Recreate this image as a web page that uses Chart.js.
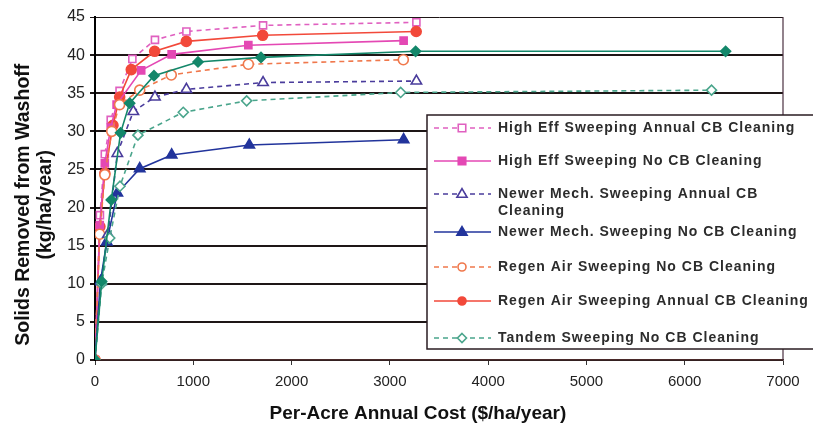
<!DOCTYPE html>
<html>
<head>
<meta charset="utf-8">
<script src="https://cdn.jsdelivr.net/npm/chart.js@4.4.1/dist/chart.umd.min.js"></script>
<style>
    html, body { margin: 0; padding: 0; background: #fff; }
    #wrap { width: 813px; height: 431px; position: relative; }
</style>
</head>
<body>
<div id="wrap"><canvas id="washoffChart" width="813" height="431"></canvas></div>
<script>
// cost ($/ha/year) and solids removed (kg/ha/year)
const highEffAnnualX = [0, 50, 100, 160, 250, 380, 610, 930, 1710, 3270];
const highEffAnnualY = [0, 19, 27, 31.5, 35.3, 39.5, 42, 43.1, 43.9, 44.3];

const highEffNoCbX = [0, 48, 100, 160, 220, 470, 780, 1560, 3140];
const highEffNoCbY = [0, 17.7, 25.8, 30.5, 33.5, 38, 40.1, 41.3, 41.9];

const newerMechAnnualX = [0, 60, 132, 227, 390, 610, 930, 1710, 3270];
const newerMechAnnualY = [0, 10.3, 16.5, 27.1, 32.6, 34.5, 35.5, 36.4, 36.6];

const newerMechNoCbX = [0, 55, 120, 227, 455, 780, 1570, 3140];
const newerMechNoCbY = [0, 10.3, 15.5, 21.9, 25.1, 26.9, 28.2, 28.9];

const regenNoCbX = [0, 48, 100, 170, 250, 455, 776, 1560, 3137];
const regenNoCbY = [0, 16.5, 24.3, 30, 33.5, 35.4, 37.4, 38.8, 39.4];

const regenAnnualX = [0, 50, 100, 183, 251, 369, 607, 929, 1706, 3268];
const regenAnnualY = [0, 17.5, 24.5, 30.8, 34.5, 38.1, 40.5, 41.8, 42.6, 43.1];

const tandemNoCbX = [0, 68, 150, 254, 437, 898, 1543, 3110, 6273];
const tandemNoCbY = [0, 10, 16, 22.8, 29.5, 32.5, 34.0, 35.1, 35.4];

const tandemAnnualX = [0, 68, 166, 260, 353, 600, 1048, 1689, 3262, 6416];
const tandemAnnualY = [0, 10.3, 21, 29.8, 33.7, 37.3, 39.1, 39.7, 40.5, 40.5];

const xTicks = [0, 1000, 2000, 3000, 4000, 5000, 6000, 7000];
const yTicks = [0, 5, 10, 15, 20, 25, 30, 35, 40, 45];

const sans = "'Liberation Sans', Arial, sans-serif";
const pad = n => "\u00a0".repeat(n);

function pts(xs, ys) {
    return xs.map((x, i) => ({ x: x, y: ys[i] }));
}

function series(label, xs, ys, color, dashed, style, filled, radius) {
    return {
        label: label,
        data: pts(xs, ys),
        borderColor: color,
        backgroundColor: color,
        borderWidth: 1.6,
        borderDash: dashed ? [5, 4] : [],
        pointStyle: style,
        pointRadius: radius || 5,
        pointBorderWidth: 1.6,
        pointBorderColor: color,
        pointBackgroundColor: filled ? color : "#ffffff",
        tension: 0
    };
}

const datasets = [
    series("Tandem Sweeping Annual CB Cleaning", tandemAnnualX, tandemAnnualY, "#13876a", false, "rectRot", true, 5),
    series("Tandem Sweeping No CB Cleaning", tandemNoCbX, tandemNoCbY, "#4aa58c", true, "rectRot", false, 5),
    series("Newer Mech. Sweeping No CB Cleaning", newerMechNoCbX, newerMechNoCbY, "#22349c", false, "triangle", true, 6),
    series("Newer Mech. Sweeping Annual CB Cleaning", newerMechAnnualX, newerMechAnnualY, "#4a3c9c", true, "triangle", false, 6),
    series("Regen Air Sweeping No CB Cleaning", regenNoCbX, regenNoCbY, "#f0784c", true, "circle", false, 5),
    series("High Eff Sweeping No CB Cleaning", highEffNoCbX, highEffNoCbY, "#e448b4", false, "rect", true, 5),
    series("Regen Air Sweeping Annual CB Cleaning", regenAnnualX, regenAnnualY, "#f2493a", false, "circle", true, 5),
    series("High Eff Sweeping Annual CB Cleaning", highEffAnnualX, highEffAnnualY, "#e060c0", true, "rect", false, 5)
];

// legend order as in the figure (the green solid series has no entry there)
const legendOrder = [
    { label: ["High Eff Sweeping Annual CB Cleaning"], ds: 7 },
    { label: ["High Eff Sweeping No CB Cleaning"], ds: 5 },
    { label: ["Newer Mech. Sweeping Annual CB", "Cleaning"], ds: 3 },
    { label: ["Newer Mech. Sweeping No CB Cleaning"], ds: 2 },
    { label: ["Regen Air Sweeping No CB Cleaning"], ds: 4 },
    { label: ["Regen Air Sweeping Annual CB Cleaning"], ds: 6 },
    { label: ["Tandem Sweeping No CB Cleaning"], ds: 1 }
];
const legendRowY = [128, 161, 194, 232, 267, 301, 338];

function drawMarker(ctx, ds, x, y) {
    const r = ds.pointRadius;
    ctx.fillStyle = ds.pointBackgroundColor;
    ctx.strokeStyle = ds.pointBorderColor;
    ctx.lineWidth = ds.pointBorderWidth;
    ctx.setLineDash([]);
    ctx.beginPath();
    if (ds.pointStyle === "rect") {
        ctx.rect(x - r * 0.75, y - r * 0.75, r * 1.5, r * 1.5);
    } else if (ds.pointStyle === "circle") {
        ctx.arc(x, y, r * 0.8, 0, Math.PI * 2);
    } else if (ds.pointStyle === "triangle") {
        ctx.moveTo(x, y - r * 0.9);
        ctx.lineTo(x + r * 0.85, y + r * 0.55);
        ctx.lineTo(x - r * 0.85, y + r * 0.55);
        ctx.closePath();
    } else {
        ctx.moveTo(x, y - r * 0.9);
        ctx.lineTo(x + r * 0.9, y);
        ctx.lineTo(x, y + r * 0.9);
        ctx.lineTo(x - r * 0.9, y);
        ctx.closePath();
    }
    ctx.fill();
    ctx.stroke();
}

const frameAndLegend = {
    id: "frameAndLegend",
    afterDatasetsDraw(chart) {
        const ctx = chart.ctx;
        const a = chart.chartArea;
        ctx.save();
        ctx.strokeStyle = "#4a3040";
        ctx.lineWidth = 1.2;
        ctx.beginPath();
        ctx.moveTo(a.right, a.top);
        ctx.lineTo(a.right, a.bottom);
        ctx.stroke();

        // legend box, running off the right edge like the original
        const bx = 427, by = 115, bw = 420, bh = 234;
        ctx.fillStyle = "#ffffff";
        ctx.fillRect(bx, by, bw, bh);
        ctx.strokeStyle = "#2a1c22";
        ctx.lineWidth = 1.5;
        ctx.strokeRect(bx, by, bw, bh);

        ctx.font = "bold 14px " + sans;
        ctx.letterSpacing = "1px";
        ctx.textBaseline = "middle";
        legendOrder.forEach((item, i) => {
            const ds = chart.data.datasets[item.ds];
            const y = legendRowY[i];
            ctx.strokeStyle = ds.borderColor;
            ctx.lineWidth = 1.6;
            ctx.setLineDash(ds.borderDash);
            ctx.beginPath();
            ctx.moveTo(434, y);
            ctx.lineTo(491, y);
            ctx.stroke();
            drawMarker(ctx, ds, 462, y);
            ctx.fillStyle = "#2c2c2c";
            item.label.forEach((line, j) => {
                ctx.fillText(line, 498, y + j * 17);
            });
        });
        ctx.restore();
    }
};

const ctx = document.getElementById("washoffChart").getContext("2d");
new Chart(ctx, {
    type: "line",
    data: { datasets: datasets },
    options: {
        responsive: false,
        animation: false,
        devicePixelRatio: 1,
        layout: { padding: { top: 17, right: 30, left: 0, bottom: 0 } },
        plugins: {
            legend: { display: false },
            tooltip: { enabled: false }
        },
        scales: {
            x: {
                type: "linear",
                min: 0,
                max: 7000,
                afterBuildTicks: scale => { scale.ticks = xTicks.map(v => ({ value: v })); },
                afterFit: scale => { scale.height = 71; },
                ticks: {
                    color: "#222",
                    font: { family: sans, size: 15 },
                    padding: 8,
                    callback: v => String(v)
                },
                grid: { drawOnChartArea: false, drawTicks: true, tickLength: 5, color: "#333" },
                border: { color: "#4a2a2a", width: 1.5 },
                title: {
                    display: true,
                    // trailing spaces nudge the centred title left, as in the original
                    text: "Per-Acre Annual Cost ($/ha/year)" + pad(8),
                    color: "#111",
                    font: { family: sans, size: 19, weight: "bold" },
                    padding: { top: 4, bottom: 6 }
                }
            },
            y: {
                min: 0,
                max: 45,
                afterBuildTicks: scale => { scale.ticks = yTicks.map(v => ({ value: v })); },
                afterFit: scale => { scale.width = 95; },
                ticks: {
                    color: "#222",
                    font: { family: sans, size: 16 },
                    padding: 5
                },
                grid: {
                    color: "#1e1616",
                    lineWidth: c => (c.tick && c.tick.value === 45 ? 1 : 2),
                    tickLength: 5
                },
                border: { color: "#000", width: 2 },
                title: {
                    display: true,
                    // trailing spaces push the rotated title down a little
                    text: ["Solids Removed from Washoff" + pad(6), "(kg/ha/year)" + pad(6)],
                    color: "#111",
                    font: { family: sans, size: 19.5, weight: "bold", lineHeight: 1.15 },
                    padding: { top: 12, bottom: 0 }
                }
            }
        }
    },
    plugins: [frameAndLegend]
});
</script>
</body>
</html>
